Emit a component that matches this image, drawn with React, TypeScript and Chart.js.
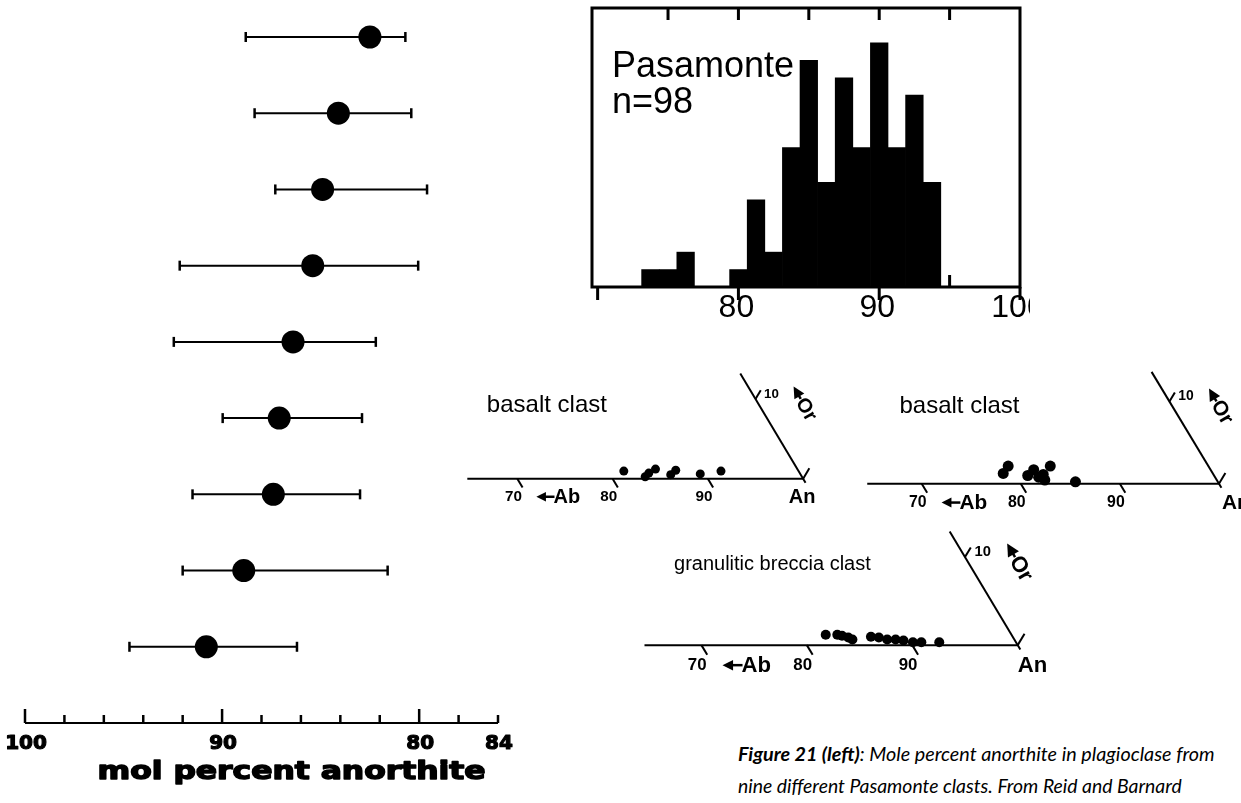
import React, { useEffect, useLayoutEffect, useRef } from 'react';
import { Chart, registerables } from 'chart.js';
Chart.register(...registerables);

// ---------------- Left panel: mol % anorthite per clast ----------------
const clastRows = [1, 2, 3, 4, 5, 6, 7, 8, 9];
const anMean = [82.5, 84.1, 84.9, 85.4, 86.4, 87.1, 87.4, 88.9, 90.8];
const anLow = [80.7, 80.4, 79.6, 80.05, 82.2, 82.9, 83.0, 81.6, 86.2];
const anHigh = [88.8, 88.35, 87.3, 92.15, 92.45, 89.97, 91.5, 92.0, 94.7];
const anAxisTicks = [100, 98, 96, 94, 92, 90, 88, 86, 84, 82, 80, 78, 76];
const anAxisMajor = [100, 90, 80];
const anAxisLabelValues = [100, 90, 80, 76];
const anAxisLabels = ['100', '90', '80', '84'];
const anAxisTitle = 'mol percent anorthite';

// ---------------- Histogram ----------------
const histBinCenters = [73.75, 75, 76.25, 77.5, 78.75, 80, 81.25, 82.5, 83.75, 85, 86.25, 87.5, 88.75, 90, 91.25, 92.5, 93.75];
const histCounts = [1, 1, 2, 0, 0, 1, 5, 2, 8, 13, 6, 12, 8, 14, 8, 11, 6];
const histName = 'Pasamonte';
const histTopTicks = [75, 80, 85, 90, 95];
const histInnerTicks = [75, 85, 95];
const histBottomTicks = [70, 80, 90, 100];
const histLabelValues = [80, 90, 100];
const histLabels = ['80', '90', '100'];

// ---------------- Ternary (An-Ab-Or) diagrams ----------------
const tern1An = [80.7, 83.3, 83.45, 83.9, 85.85, 86.1, 88.9, 90.9];
const tern1Or = [0.95, 0.24, 0.7, 1.2, 0.5, 1.05, 0.6, 0.95];
const tern2An = [77.6, 77.65, 80.2, 80.45, 81.4, 81.7, 82.2, 81.9, 85.4];
const tern2Or = [1.25, 2.15, 1.0, 1.7, 0.8, 1.13, 0.45, 2.15, 0.23];
const tern3An = [81.2, 82.3, 82.8, 83.5, 84.0, 85.6, 86.4, 87.3, 88.1, 88.9, 89.9, 90.7, 92.4];
const tern3Or = [1.18, 1.18, 1.07, 0.86, 0.64, 0.96, 0.86, 0.64, 0.64, 0.53, 0.32, 0.32, 0.32];
const ternTitles = ['basalt clast', 'basalt clast', 'granulitic breccia clast'];
const ternBaseTicks = [70, 80, 90];
const ternBaseLabels = ['70', '80', '90'];
const ternOrTick = 10;
const ternOrLabel = '10';

const captionBold = 'Figure 21 (left)';
const captionLine1 = ': Mole percent anorthite in plagioclase from';
const captionLine2 = 'nine different Pasamonte clasts. From Reid and Barnard';

type Box = { left: number; top: number; width: number; height: number };

const S3 = Math.sqrt(3) / 2;

function ChartCanvas({ box, make }: { box: Box; make: () => any }) {
  const ref = useRef<HTMLCanvasElement>(null);
  useEffect(() => {
    const chart = new Chart(ref.current as HTMLCanvasElement, make());
    return () => chart.destroy();
  }, []);
  return (
    <canvas
      ref={ref}
      width={box.width}
      height={box.height}
      style={{ position: 'absolute', left: box.left, top: box.top, width: box.width, height: box.height }}
    />
  );
}

const baseOptions = {
  responsive: false,
  animation: false,
  events: [],
  plugins: { legend: { display: false }, tooltip: { enabled: false } },
};

// ---------- left chart ----------
const anAxisPlugin = {
  id: 'anAxis',
  afterDraw(chart: any) {
    const { ctx, chartArea: a } = chart;
    const x = chart.scales.x;
    const y0 = a.bottom;
    ctx.save();
    ctx.strokeStyle = '#000';
    ctx.fillStyle = '#000';
    ctx.lineWidth = 2;
    ctx.beginPath();
    ctx.moveTo(x.getPixelForValue(100), y0);
    ctx.lineTo(x.getPixelForValue(76), y0);
    ctx.stroke();
    ctx.lineWidth = 2.5;
    anAxisTicks.forEach((v) => {
      const px = x.getPixelForValue(v);
      const len = anAxisMajor.includes(v) ? 14 : 8;
      ctx.beginPath();
      ctx.moveTo(px, y0);
      ctx.lineTo(px, y0 - len);
      ctx.stroke();
    });
    ctx.font = 'bold 20px "DejaVu Sans", sans-serif';
    ctx.textAlign = 'center';
    ctx.textBaseline = 'alphabetic';
    ctx.lineWidth = 1.2;
    ctx.lineJoin = 'round';
    anAxisLabelValues.forEach((v, i) => {
      const px = x.getPixelForValue(v) + 1;
      ctx.fillText(anAxisLabels[i], px, y0 + 26);
      ctx.strokeText(anAxisLabels[i], px, y0 + 26);
    });
    // title, stretched horizontally
    ctx.font = 'bold 24px "DejaVu Sans", sans-serif';
    const w = ctx.measureText(anAxisTitle).width;
    const target = 388;
    const cx = (x.getPixelForValue(100) + x.getPixelForValue(76)) / 2 + 30;
    ctx.translate(cx, y0 + 56);
    ctx.scale(target / w, 1);
    ctx.lineWidth = 1.4;
    ctx.fillText(anAxisTitle, 0, 0);
    ctx.strokeText(anAxisTitle, 0, 0);
    ctx.restore();
  },
};

function makeErrorChart() {
  const meanPts = anMean.map((v, i) => ({ x: v, y: clastRows[i] }));
  const barPts: any[] = [];
  clastRows.forEach((r, i) => {
    barPts.push({ x: anHigh[i], y: r }, { x: anLow[i], y: r }, { x: anLow[i], y: null });
  });
  return {
    type: 'scatter',
    data: {
      datasets: [
        { data: meanPts, pointRadius: 11.5, pointBackgroundColor: '#000', pointBorderColor: '#000', pointBorderWidth: 0, showLine: false, clip: false },
        {
          data: barPts, showLine: true, borderColor: '#000', borderWidth: 2,
          pointStyle: 'line', pointRotation: 90, pointRadius: 5, pointBorderColor: '#000', pointBorderWidth: 2.5, clip: false,
        },
      ],
    },
    options: {
      ...baseOptions,
      layout: { padding: { left: 25, right: 32, top: 37, bottom: 80 } },
      scales: {
        x: { type: 'linear', display: false, reverse: true, min: 76, max: 100 },
        y: { type: 'linear', display: false, reverse: true, min: 1, max: 10 },
      },
    },
    plugins: [anAxisPlugin],
  };
}

// ---------- histogram ----------
const histPlugin = {
  id: 'histFrame',
  afterDatasetsDraw(chart: any) {
    const { ctx, chartArea: a } = chart;
    const x = chart.scales.x;
    ctx.save();
    ctx.strokeStyle = '#000';
    ctx.fillStyle = '#000';
    ctx.lineWidth = 3;
    ctx.strokeRect(a.left, a.top, a.right - a.left, a.bottom - a.top);
    const tick = (px: number, y1: number, y2: number) => {
      ctx.beginPath();
      ctx.moveTo(px, y1);
      ctx.lineTo(px, y2);
      ctx.stroke();
    };
    histTopTicks.forEach((v) => tick(x.getPixelForValue(v), a.top, a.top + 12));
    histInnerTicks.forEach((v) => tick(x.getPixelForValue(v), a.bottom, a.bottom - 12));
    histBottomTicks.forEach((v) => tick(x.getPixelForValue(v), a.bottom, a.bottom + 13));
    ctx.font = '32px "Liberation Sans", Arial, sans-serif';
    ctx.textAlign = 'center';
    ctx.textBaseline = 'middle';
    histLabelValues.forEach((v, i) => ctx.fillText(histLabels[i], x.getPixelForValue(v) - 2, a.bottom + 21));
    ctx.textAlign = 'left';
    ctx.textBaseline = 'alphabetic';
    ctx.font = '36px "Liberation Sans", Arial, sans-serif';
    const n = histCounts.reduce((s, c) => s + c, 0);
    ctx.fillText(histName, a.left + 20, a.top + 69);
    ctx.fillText('n=' + n, a.left + 20, a.top + 105);
    ctx.restore();
  },
};

function makeHistChart() {
  return {
    type: 'bar',
    data: {
      datasets: [{
        data: histBinCenters.map((c, i) => ({ x: c, y: histCounts[i] })),
        backgroundColor: '#000', borderWidth: 0, barPercentage: 1, categoryPercentage: 1,
      }],
    },
    options: {
      ...baseOptions,
      layout: { padding: { left: 2, right: 10, top: 8, bottom: 43 } },
      scales: {
        x: { type: 'linear', display: false, min: 69.6, max: 100, offset: false },
        y: { type: 'linear', display: false, min: 0, max: 16 },
      },
    },
    plugins: [histPlugin],
  };
}

// ---------- ternary ----------
type TernCfg = {
  an: number[]; or: number[]; title: string; titleFont: number; titlePos: [number, number];
  slantLen: number; baseStart: number; anDx: number; anAlign: CanvasTextAlign; dotR: number;
  xMin: number; xMax: number; yMin: number; yMax: number;
};

function ternPlugin(c: TernCfg) {
  return {
    id: 'tern',
    beforeDatasetsDraw(chart: any) {
      const { ctx } = chart;
      const x = chart.scales.x;
      const y = chart.scales.y;
      const k = (x.getPixelForValue(100) - x.getPixelForValue(90)) / 100;
      const P = (u: number, v: number) => [x.getPixelForValue(u), y.getPixelForValue(v)];
      ctx.save();
      ctx.strokeStyle = '#000';
      ctx.fillStyle = '#000';
      ctx.lineWidth = 2;
      const line = (p: number[], q: number[]) => {
        ctx.beginPath();
        ctx.moveTo(p[0], p[1]);
        ctx.lineTo(q[0], q[1]);
        ctx.stroke();
      };
      line(P(c.baseStart, 0), P(100, 0));
      line(P(100 + 0.5 * 0.5, -S3 * 0.5), P(100 - 0.5 * c.slantLen, S3 * c.slantLen));
      ternBaseTicks.forEach((t) => line(P(t, 0), P(t + 0.5 * 1.1, -S3 * 1.1)));
      line(P(100, 0), P(100 + 0.5 * 1.3, S3 * 1.3));
      const ou = 100 - 0.5 * ternOrTick;
      const ov = S3 * ternOrTick;
      const o = P(ou, ov);
      line(o, P(ou + 0.5 * 1.1, ov + S3 * 1.1));

      // base labels
      ctx.font = `bold ${16 * k}px "Liberation Sans", Arial, sans-serif`;
      ctx.textAlign = 'center';
      ctx.textBaseline = 'middle';
      ternBaseTicks.forEach((t, i) => {
        const p = P(t, 0);
        ctx.fillText(ternBaseLabels[i], p[0] - 4 * k, p[1] + 19 * k);
      });
      // arrow + Ab
      const ab = P(72, 0);
      const ay = ab[1] + 19 * k;
      ctx.beginPath();
      ctx.moveTo(ab[0], ay);
      ctx.lineTo(ab[0] + 10 * k, ay - 5 * k);
      ctx.lineTo(ab[0] + 10 * k, ay + 5 * k);
      ctx.closePath();
      ctx.fill();
      ctx.lineWidth = 2.5;
      line([ab[0] + 8 * k, ay], [ab[0] + 19 * k, ay]);
      ctx.lineWidth = 2;
      ctx.font = `bold ${21 * k}px "Liberation Sans", Arial, sans-serif`;
      ctx.textAlign = 'left';
      ctx.fillText('Ab', ab[0] + 18 * k, ay + 1);
      const an = P(100, 0);
      ctx.textAlign = c.anAlign;
      ctx.fillText('An', an[0] + c.anDx, ay + 1);
      // Or tick label
      ctx.font = `bold ${14 * k}px "Liberation Sans", Arial, sans-serif`;
      ctx.textAlign = 'left';
      ctx.fillText(ternOrLabel, o[0] + 9 * k, o[1] - 5 * k);
      // Or arrow
      ctx.save();
      ctx.translate(o[0] + 40 * k, o[1] - 13 * k);
      ctx.rotate(Math.PI / 3);
      ctx.beginPath();
      ctx.moveTo(0, 0);
      ctx.lineTo(12 * k, -6 * k);
      ctx.lineTo(12 * k, 6 * k);
      ctx.closePath();
      ctx.fill();
      ctx.lineWidth = 2.5;
      line([10 * k, 0], [15 * k, 0]);
      ctx.font = `bold ${21 * k}px "Liberation Sans", Arial, sans-serif`;
      ctx.fillText('Or', 15 * k, 1);
      ctx.restore();
      // title
      ctx.font = `${c.titleFont}px "Liberation Sans", Arial, sans-serif`;
      ctx.textAlign = 'left';
      ctx.textBaseline = 'alphabetic';
      const tp = P(c.titlePos[0], c.titlePos[1]);
      ctx.fillText(c.title, tp[0], tp[1]);
      ctx.restore();
    },
  };
}

function makeTernChart(c: TernCfg) {
  return () => ({
    type: 'scatter',
    data: {
      datasets: [{
        data: c.an.map((a, i) => ({ x: a + c.or[i] / 2, y: c.or[i] * S3 })),
        pointRadius: c.dotR, pointBackgroundColor: '#000', pointBorderWidth: 0, showLine: false, clip: false,
      }],
    },
    options: {
      ...baseOptions,
      layout: { padding: 0 },
      scales: {
        x: { type: 'linear', display: false, min: c.xMin, max: c.xMax },
        y: { type: 'linear', display: false, min: c.yMin, max: c.yMax },
      },
    },
    plugins: [ternPlugin(c)],
  });
}

const tern1: TernCfg = {
  an: tern1An, or: tern1Or, title: ternTitles[0], titleFont: 24, titlePos: [66.8, 7.27],
  slantLen: 13.2, baseStart: 64.75, anDx: -1, anAlign: 'center', dotR: 4.5,
  xMin: 63.93, xMax: 102.87, yMin: -4.0, yMax: 12.4,
};
const tern2: TernCfg = {
  an: tern2An, or: tern2Or, title: ternTitles[1], titleFont: 24, titlePos: [67.75, 7.45],
  slantLen: 13.6, baseStart: 64.5, anDx: 3, anAlign: 'left', dotR: 5.5,
  xMin: 63.82, xMax: 101.67, yMin: -3.24, yMax: 12.45,
};
const tern3: TernCfg = {
  an: tern3An, or: tern3Or, title: ternTitles[2], titleFont: 20, titlePos: [67.4, 7.4],
  slantLen: 12.9, baseStart: 64.6, anDx: 0, anAlign: 'left', dotR: 5,
  xMin: 63.7, xMax: 102.59, yMin: -3.43, yMax: 12.31,
};

function Caption() {
  const l1 = useRef<HTMLDivElement>(null);
  const l2 = useRef<HTMLDivElement>(null);
  useLayoutEffect(() => {
    const fit = (el: HTMLDivElement | null, target: number, baseline: number) => {
      if (!el) return;
      el.style.fontSize = '20px';
      const w = el.getBoundingClientRect().width;
      const fs = (20 * target) / w;
      el.style.fontSize = fs + 'px';
      el.style.top = baseline - 0.887 * fs + 'px';
    };
    fit(l1.current, 477, 762);
    fit(l2.current, 444, 793);
  }, []);
  const style: React.CSSProperties = {
    position: 'absolute', left: 738, top: 740, whiteSpace: 'nowrap', width: 'max-content',
    fontFamily: 'Lato, "Open Sans", sans-serif', fontStyle: 'italic', lineHeight: 1, color: '#000',
  };
  return (
    <>
      <div ref={l1} style={style}>
        <b>{captionBold}</b>{captionLine1}
      </div>
      <div ref={l2} style={{ ...style, top: 772 }}>{captionLine2}</div>
    </>
  );
}

export default function App() {
  return (
    <div style={{ position: 'absolute', left: 0, top: 0, width: 1241, height: 803, background: '#fff', overflow: 'hidden' }}>
      <ChartCanvas box={{ left: 0, top: 0, width: 530, height: 803 }} make={makeErrorChart} />
      <ChartCanvas box={{ left: 590, top: 0, width: 440, height: 330 }} make={makeHistChart} />
      <ChartCanvas box={{ left: 455, top: 360, width: 380, height: 160 }} make={makeTernChart(tern1)} />
      <ChartCanvas box={{ left: 855, top: 360, width: 386, height: 160 }} make={makeTernChart(tern2)} />
      <ChartCanvas box={{ left: 630, top: 515, width: 420, height: 170 }} make={makeTernChart(tern3)} />
      <Caption />
    </div>
  );
}
